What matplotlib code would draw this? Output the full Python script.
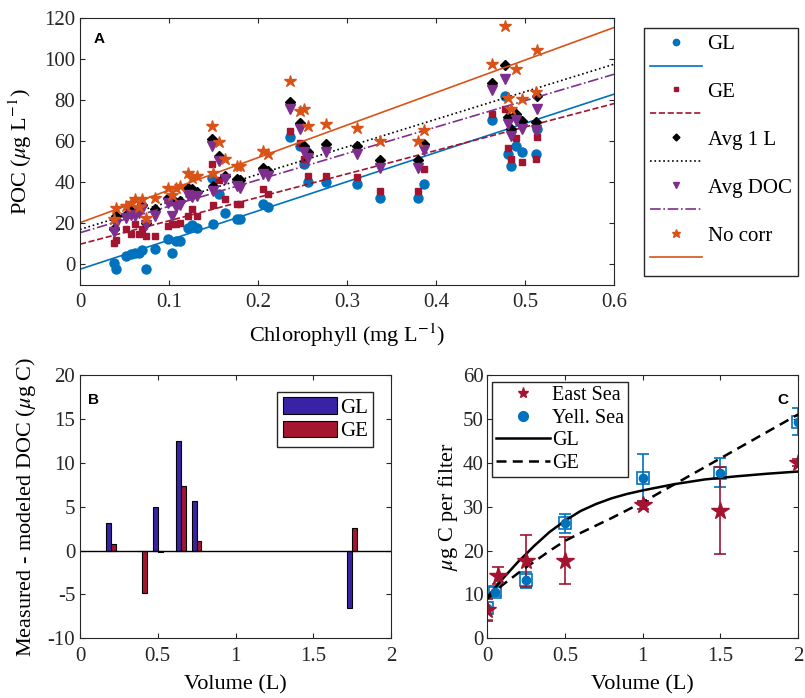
import matplotlib
matplotlib.use('Agg')
import matplotlib.pyplot as plt
from matplotlib.lines import Line2D

plt.rcParams['font.family'] = ['Liberation Serif', 'DejaVu Serif']
plt.rcParams['mathtext.fontset'] = 'stix'
plt.rcParams['font.size'] = 15
plt.rcParams['axes.unicode_minus'] = False
plt.rcParams['xtick.direction'] = 'in'
plt.rcParams['ytick.direction'] = 'in'
plt.rcParams['xtick.top'] = True
plt.rcParams['ytick.right'] = True
plt.rcParams['xtick.major.size'] = 3.5
plt.rcParams['ytick.major.size'] = 3.5
plt.rcParams['xtick.major.pad'] = 6
plt.rcParams['axes.edgecolor'] = '#262626'
plt.rcParams['xtick.color'] = '#262626'
plt.rcParams['ytick.color'] = '#262626'

# ---- panel A: POC vs chlorophyll ----
chl = [0.038, 0.040, 0.052, 0.057, 0.062, 0.066, 0.070, 0.074, 0.084, 0.099,
       0.103, 0.108, 0.112, 0.121, 0.126, 0.131, 0.148, 0.149, 0.156, 0.163,
       0.176, 0.180, 0.206, 0.211, 0.236, 0.247, 0.252, 0.256, 0.276, 0.311,
       0.337, 0.380, 0.386, 0.463, 0.477, 0.481, 0.484, 0.490, 0.497, 0.512, 0.514]
poc_gl = [0.5, -2.5, 4, 5, 5.7, 5.7, 7, -2.4, 7.3, 12.2,
          5.7, 11.4, 11.4, 17.9, 19, 17.5, 42.3, 19.5, 34.1, 25.2,
          22, 22, 29.3, 28.1, 62.1, 57.7, 48.8, 40.1, 40.1, 39.4,
          32.5, 32.5, 39.4, 70.2, 82.1, 53.7, 48, 57.7, 55, 53.7, 66]
poc_ge = [10.5, 12, 17, 15, 19.5, 14.6, 17, 13.8, 13.8, 18.7,
          19.5, 19.5, 20.3, 23.6, 26.8, 23.6, 48.8, 29, 41.1, 32,
          29.3, 29.3, 36.6, 34.1, 65, 59.3, 51.2, 43.1, 43.1, 42.8,
          35.8, 35.8, 46.3, 73.5, 76, 56.9, 51.2, 61.8, 49.9, 51.2, 62.1]
poc_avg1 = [17, 23.5, 24, 26.8, 26, 27.6, 29, 20.3, 26.8, 32.5,
            31.7, 30, 31, 37.4, 36.6, 35.5, 61, 38.2, 52.8, 43.1,
            41.5, 41, 47.2, 45.5, 79.3, 68.8, 57.7, 55, 58.5, 57.7,
            50.9, 50.9, 58.5, 88.6, 97.2, 71.9, 65.9, 73.2, 70, 69.6, 82.1]
poc_avgdoc = [16, 19.5, 22.8, 24, 23.6, 25, 27, 19, 23.6, 30,
              23.6, 28, 29, 34, 33, 33.3, 57.7, 35.8, 50.4, 41.5,
              38.2, 37.4, 43.9, 43.1, 75.6, 65.9, 54.6, 52, 55, 53.7,
              46.8, 46.8, 55.6, 84.9, 90.2, 68.3, 62.6, 70.2, 66, 65.4, 75.6]
poc_nocorr = [22, 27.5, 28.4, 30, 31.7, 28, 31.7, 22.8, 32.5, 37,
              34, 37, 38, 44.7, 42.3, 43.1, 67.5, 44.7, 59.8, 51.2,
              48, 48, 55.3, 53.7, 89.4, 74.8, 75.6, 67.5, 68.3, 66.7,
              60.2, 60.2, 65.4, 97.6, 116.3, 81.3, 75.6, 95.1, 80.5, 84.1, 104.4]

# regression lines read at chl = 0 and 0.6
fit_x = [0, 0.6]
fit_gl = [-2.4, 83.0]
fit_ge = [9.8, 78.4]
fit_avg1 = [17.0, 97.6]
fit_avgdoc = [15.4, 92.7]
fit_nocorr = [20.3, 115.5]

# ---- panel B: measured - modeled DOC ----
bar_vol = [0.2, 0.4, 0.5, 0.65, 0.75, 1.75]
diff_gl = [3.1, 0.0, 5.0, 12.5, 5.7, -6.5]
diff_ge = [0.7, -4.8, -0.2, 7.4, 1.1, 2.6]

# ---- panel C: ug C per filter ----
vol_east = [0, 0.07, 0.25, 0.5, 1.0, 1.5, 2.0]
c_east = [6.4, 14.3, 17.7, 17.7, 30.4, 29.1, 40.0]
err_east = [2.5, 1.9, 5.9, 5.4, 1.0, 10.0, 0.8]
vol_yell = [0, 0.05, 0.25, 0.5, 1.0, 1.5, 2.0]
c_yell = [6.8, 10.6, 13.2, 26.2, 36.6, 37.7, 49.4]
err_yell = [2.6, 1.0, 1.8, 2.2, 5.4, 3.3, 3.0]
curve_vol = [0, 0.1, 0.2, 0.25, 0.3, 0.4, 0.5, 0.6, 0.7, 0.8, 0.9, 1.0,
             1.2, 1.4, 1.6, 1.8, 2.0]
curve_gl = [9.4, 13.6, 17.5, 19.2, 21.0, 24.2, 26.8, 29.0, 30.6, 31.9, 32.9, 33.7,
            35.1, 36.2, 36.9, 37.5, 38.0]
curve_ge = [9.0, 12.2, 14.9, 16.2, 17.4, 19.9, 22.2, 24.0, 25.7, 27.4, 29.2, 31.0,
            35.0, 39.0, 43.0, 47.0, 51.0]

c_blue = '#0072BD'
c_red = '#A2142F'
c_purple = '#7E2F8E'
c_orange = '#D95319'

fig = plt.figure(figsize=(8.05, 6.98), dpi=100)
W, H = 805, 698


def px_axes(x0, y0, x1, y1):
    return fig.add_axes([x0 / W, 1 - y1 / H, (x1 - x0) / W, (y1 - y0) / H])


# panel A
axA = px_axes(80, 18.3, 614, 284.8)
series = [
    (poc_gl, fit_gl, 'o', c_blue, 6.5, '-', 'GL'),
    (poc_ge, fit_ge, 's', c_red, 5.0, '--', 'GE'),
    (poc_avg1, fit_avg1, 'D', 'k', 5.0, ':', 'Avg 1 L'),
    (poc_avgdoc, fit_avgdoc, 'v', c_purple, 6.5, '-.', 'Avg DOC'),
    (poc_nocorr, fit_nocorr, '*', c_orange, 9.0, '-', 'No corr'),
]
leg_handles = []
leg_labels = []
for vals, fit, mk, col, ms, ls, name in series:
    axA.plot(chl, vals, mk, color=col, markersize=ms, linestyle='none')
    axA.plot(fit_x, fit, ls, color=col, linewidth=1.2)
    leg_handles += [Line2D([], [], marker=mk, color=col, markersize=ms * 0.7, linestyle='none'),
                    Line2D([], [], linestyle=ls, color=col, linewidth=1.2)]
    leg_labels += [name, '']
axA.set_xlim(0, 0.6)
axA.set_ylim(-10, 120)
axA.set_xticks([0, 0.1, 0.2, 0.3, 0.4, 0.5, 0.6])
axA.set_xticklabels(['0', '0.1', '0.2', '0.3', '0.4', '0.5', '0.6'])
axA.set_yticks([0, 20, 40, 60, 80, 100, 120])
axA.set_xlabel('Chlorophyll (mg L$^{-1}$)', fontsize=16, labelpad=7)
axA.set_ylabel('POC ($\\mu$g L$^{-1}$)', fontsize=16)
axA.yaxis.set_label_coords(-0.087, 0.5)
axA.text(0.025, 0.95, 'A', transform=axA.transAxes, family='Liberation Sans',
         fontweight='bold', fontsize=11, va='top', ha='left')
fig.legend(leg_handles, leg_labels, loc='upper left', bbox_to_anchor=(644 / W, 1 - 28 / H),
           fontsize=15, frameon=True, fancybox=False, edgecolor='#262626', framealpha=1,
           handlelength=2.5, handletextpad=0.25, labelspacing=0.21, borderpad=0.3,
           borderaxespad=0)

# panel B
axB = px_axes(80, 375, 391, 638.3)
bw = 0.031
axB.bar([v - bw / 2 for v in bar_vol], diff_gl, width=bw, color='#3A22A6',
        edgecolor='k', linewidth=0.8, label='GL')
axB.bar([v + bw / 2 for v in bar_vol], diff_ge, width=bw, color='#A5152F',
        edgecolor='k', linewidth=0.8, label='GE')
axB.axhline(0, color='k', linewidth=1.0)
axB.set_xlim(0, 2)
axB.set_ylim(-10, 20)
axB.set_xticks([0, 0.5, 1, 1.5, 2])
axB.set_xticklabels(['0', '0.5', '1', '1.5', '2'])
axB.set_yticks([-10, -5, 0, 5, 10, 15, 20])
axB.set_xlabel('Volume (L)', fontsize=16, labelpad=7)
axB.set_ylabel('Measured - modeled DOC ($\\mu$g C)', fontsize=16)
axB.yaxis.set_label_coords(-0.135, 0.5)
axB.text(0.025, 0.93, 'B', transform=axB.transAxes, family='Liberation Sans',
         fontweight='bold', fontsize=11, va='top', ha='left')
axB.legend(loc='upper right', bbox_to_anchor=(373 / W, 1 - 392 / H),
           bbox_transform=fig.transFigure, fontsize=15, frameon=True, fancybox=False,
           edgecolor='#262626', framealpha=1, handlelength=2.6, handleheight=0.85,
           handletextpad=0.15, labelspacing=0.15, borderpad=0.25, borderaxespad=0)

# panel C
axC = px_axes(487.3, 375, 798, 638.3)
axC.errorbar(vol_yell, c_yell, yerr=err_yell, fmt='o', color=c_blue, markersize=6,
             capsize=4.5, elinewidth=1.2, capthick=1.2)
axC.plot(vol_yell, c_yell, 's', mfc='none', mec=c_blue, markersize=9, mew=1.2)
axC.errorbar(vol_east, c_east, yerr=err_east, fmt='*', color=c_red, markersize=13,
             capsize=4.5, elinewidth=1.2, capthick=1.2)
axC.plot(curve_vol, curve_gl, '-', color='k', linewidth=1.8)
axC.plot(curve_vol, curve_ge, color='k', linewidth=1.8, linestyle=(0, (4, 2.5)))
axC.set_xlim(0, 2)
axC.set_ylim(0, 60)
axC.set_xticks([0, 0.5, 1, 1.5, 2])
axC.set_xticklabels(['0', '0.5', '1', '1.5', '2'])
axC.set_yticks([0, 10, 20, 30, 40, 50, 60])
axC.tick_params(axis='y', pad=2.5)
axC.set_xlabel('Volume (L)', fontsize=16, labelpad=7)
axC.set_ylabel('$\\mu$g C per filter', fontsize=16)
axC.yaxis.set_label_coords(-0.088, 0.5)
axC.text(0.97, 0.93, 'C', transform=axC.transAxes, family='Liberation Sans',
         fontweight='bold', fontsize=11, va='top', ha='right')
c_handles = [Line2D([], [], marker='*', color=c_red, markersize=8, linestyle='none'),
             Line2D([], [], marker='o', color=c_blue, markersize=7, linestyle='none'),
             Line2D([], [], color='k', linewidth=1.8),
             Line2D([], [], color='k', linewidth=1.8, linestyle=(0, (4, 2.5)))]
axC.legend(c_handles, ['East Sea', 'Yell. Sea', 'GL', 'GE'], loc='upper left',
           bbox_to_anchor=(492 / W, 1 - 382 / H), bbox_transform=fig.transFigure,
           fontsize=14.5, frameon=True, fancybox=False, edgecolor='#262626',
           framealpha=1, handlelength=2.7, handletextpad=0.1, labelspacing=0.17,
           borderpad=0.2, borderaxespad=0)

fig.savefig('out.png', dpi=100)
